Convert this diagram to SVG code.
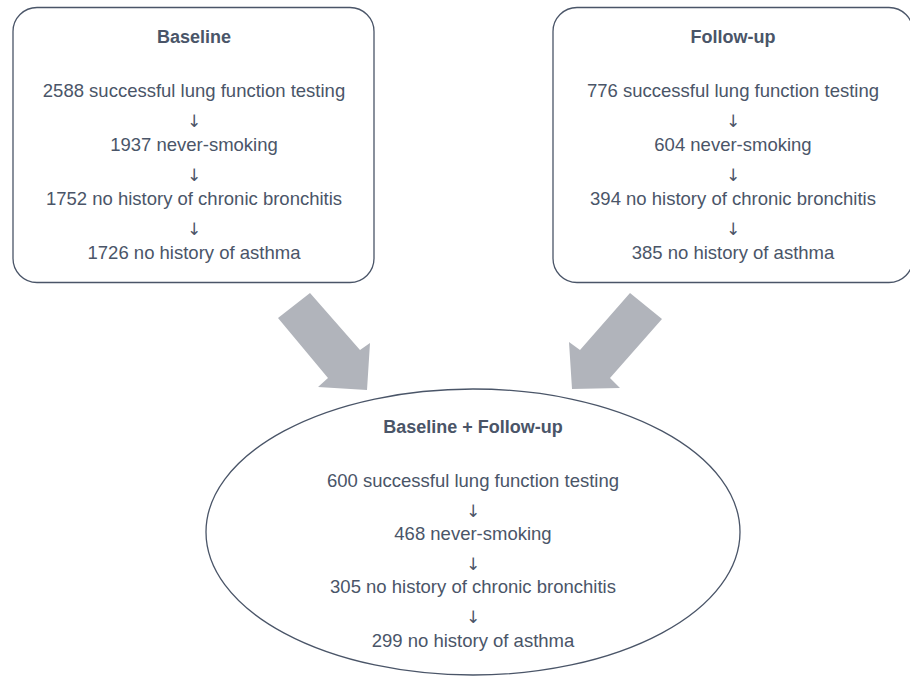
<svg xmlns="http://www.w3.org/2000/svg" width="910" height="677" viewBox="0 0 910 677">
<style>
.box{fill:#ffffff;stroke:#4a5568;stroke-width:1.3}
.t{font-family:"Liberation Sans",Arial,sans-serif;font-size:18.5px;fill:#4a5568;text-anchor:middle}
.a{font-family:"DejaVu Sans",sans-serif;font-size:17px;fill:#4a5568;text-anchor:middle}
.h{font-family:"Liberation Sans",Arial,sans-serif;font-size:18px;font-weight:bold;fill:#4a5568;text-anchor:middle}
.arr{fill:#b1b4bb}
</style>
<rect width="910" height="677" fill="#ffffff"/>
<g id="connectors">
<polygon class="arr" points="278,318 310,293 360,350 370,343 367,390 318,387 328,378"/>
<polygon class="arr" points="630,293 662,319 610,378 620,388 572,389 569,342 580,350"/>
</g>
<g id="baseline">
<rect class="box" x="13" y="7.5" width="361" height="275" rx="24"/>
<text class="h" x="194" y="43">Baseline</text>
<text class="t" x="194" y="97">2588 successful lung function testing</text>
<text class="a" x="194" y="127">↓</text>
<text class="t" x="194" y="151">1937 never-smoking</text>
<text class="a" x="194" y="181">↓</text>
<text class="t" x="194" y="205">1752 no history of chronic bronchitis</text>
<text class="a" x="194" y="235">↓</text>
<text class="t" x="194" y="259">1726 no history of asthma</text>
</g>
<g id="followup">
<rect class="box" x="553" y="7.5" width="360" height="275" rx="24"/>
<text class="h" x="733" y="43">Follow-up</text>
<text class="t" x="733" y="97">776 successful lung function testing</text>
<text class="a" x="733" y="127">↓</text>
<text class="t" x="733" y="151">604 never-smoking</text>
<text class="a" x="733" y="181">↓</text>
<text class="t" x="733" y="205">394 no history of chronic bronchitis</text>
<text class="a" x="733" y="235">↓</text>
<text class="t" x="733" y="259">385 no history of asthma</text>
</g>
<g id="combined">
<ellipse class="box" cx="473" cy="532" rx="267" ry="143"/>
<text class="h" x="473" y="433">Baseline + Follow-up</text>
<text class="t" x="473" y="487">600 successful lung function testing</text>
<text class="a" x="473" y="517">↓</text>
<text class="t" x="473" y="540">468 never-smoking</text>
<text class="a" x="473" y="570">↓</text>
<text class="t" x="473" y="593">305 no history of chronic bronchitis</text>
<text class="a" x="473" y="623">↓</text>
<text class="t" x="473" y="647">299 no history of asthma</text>
</g>
</svg>
